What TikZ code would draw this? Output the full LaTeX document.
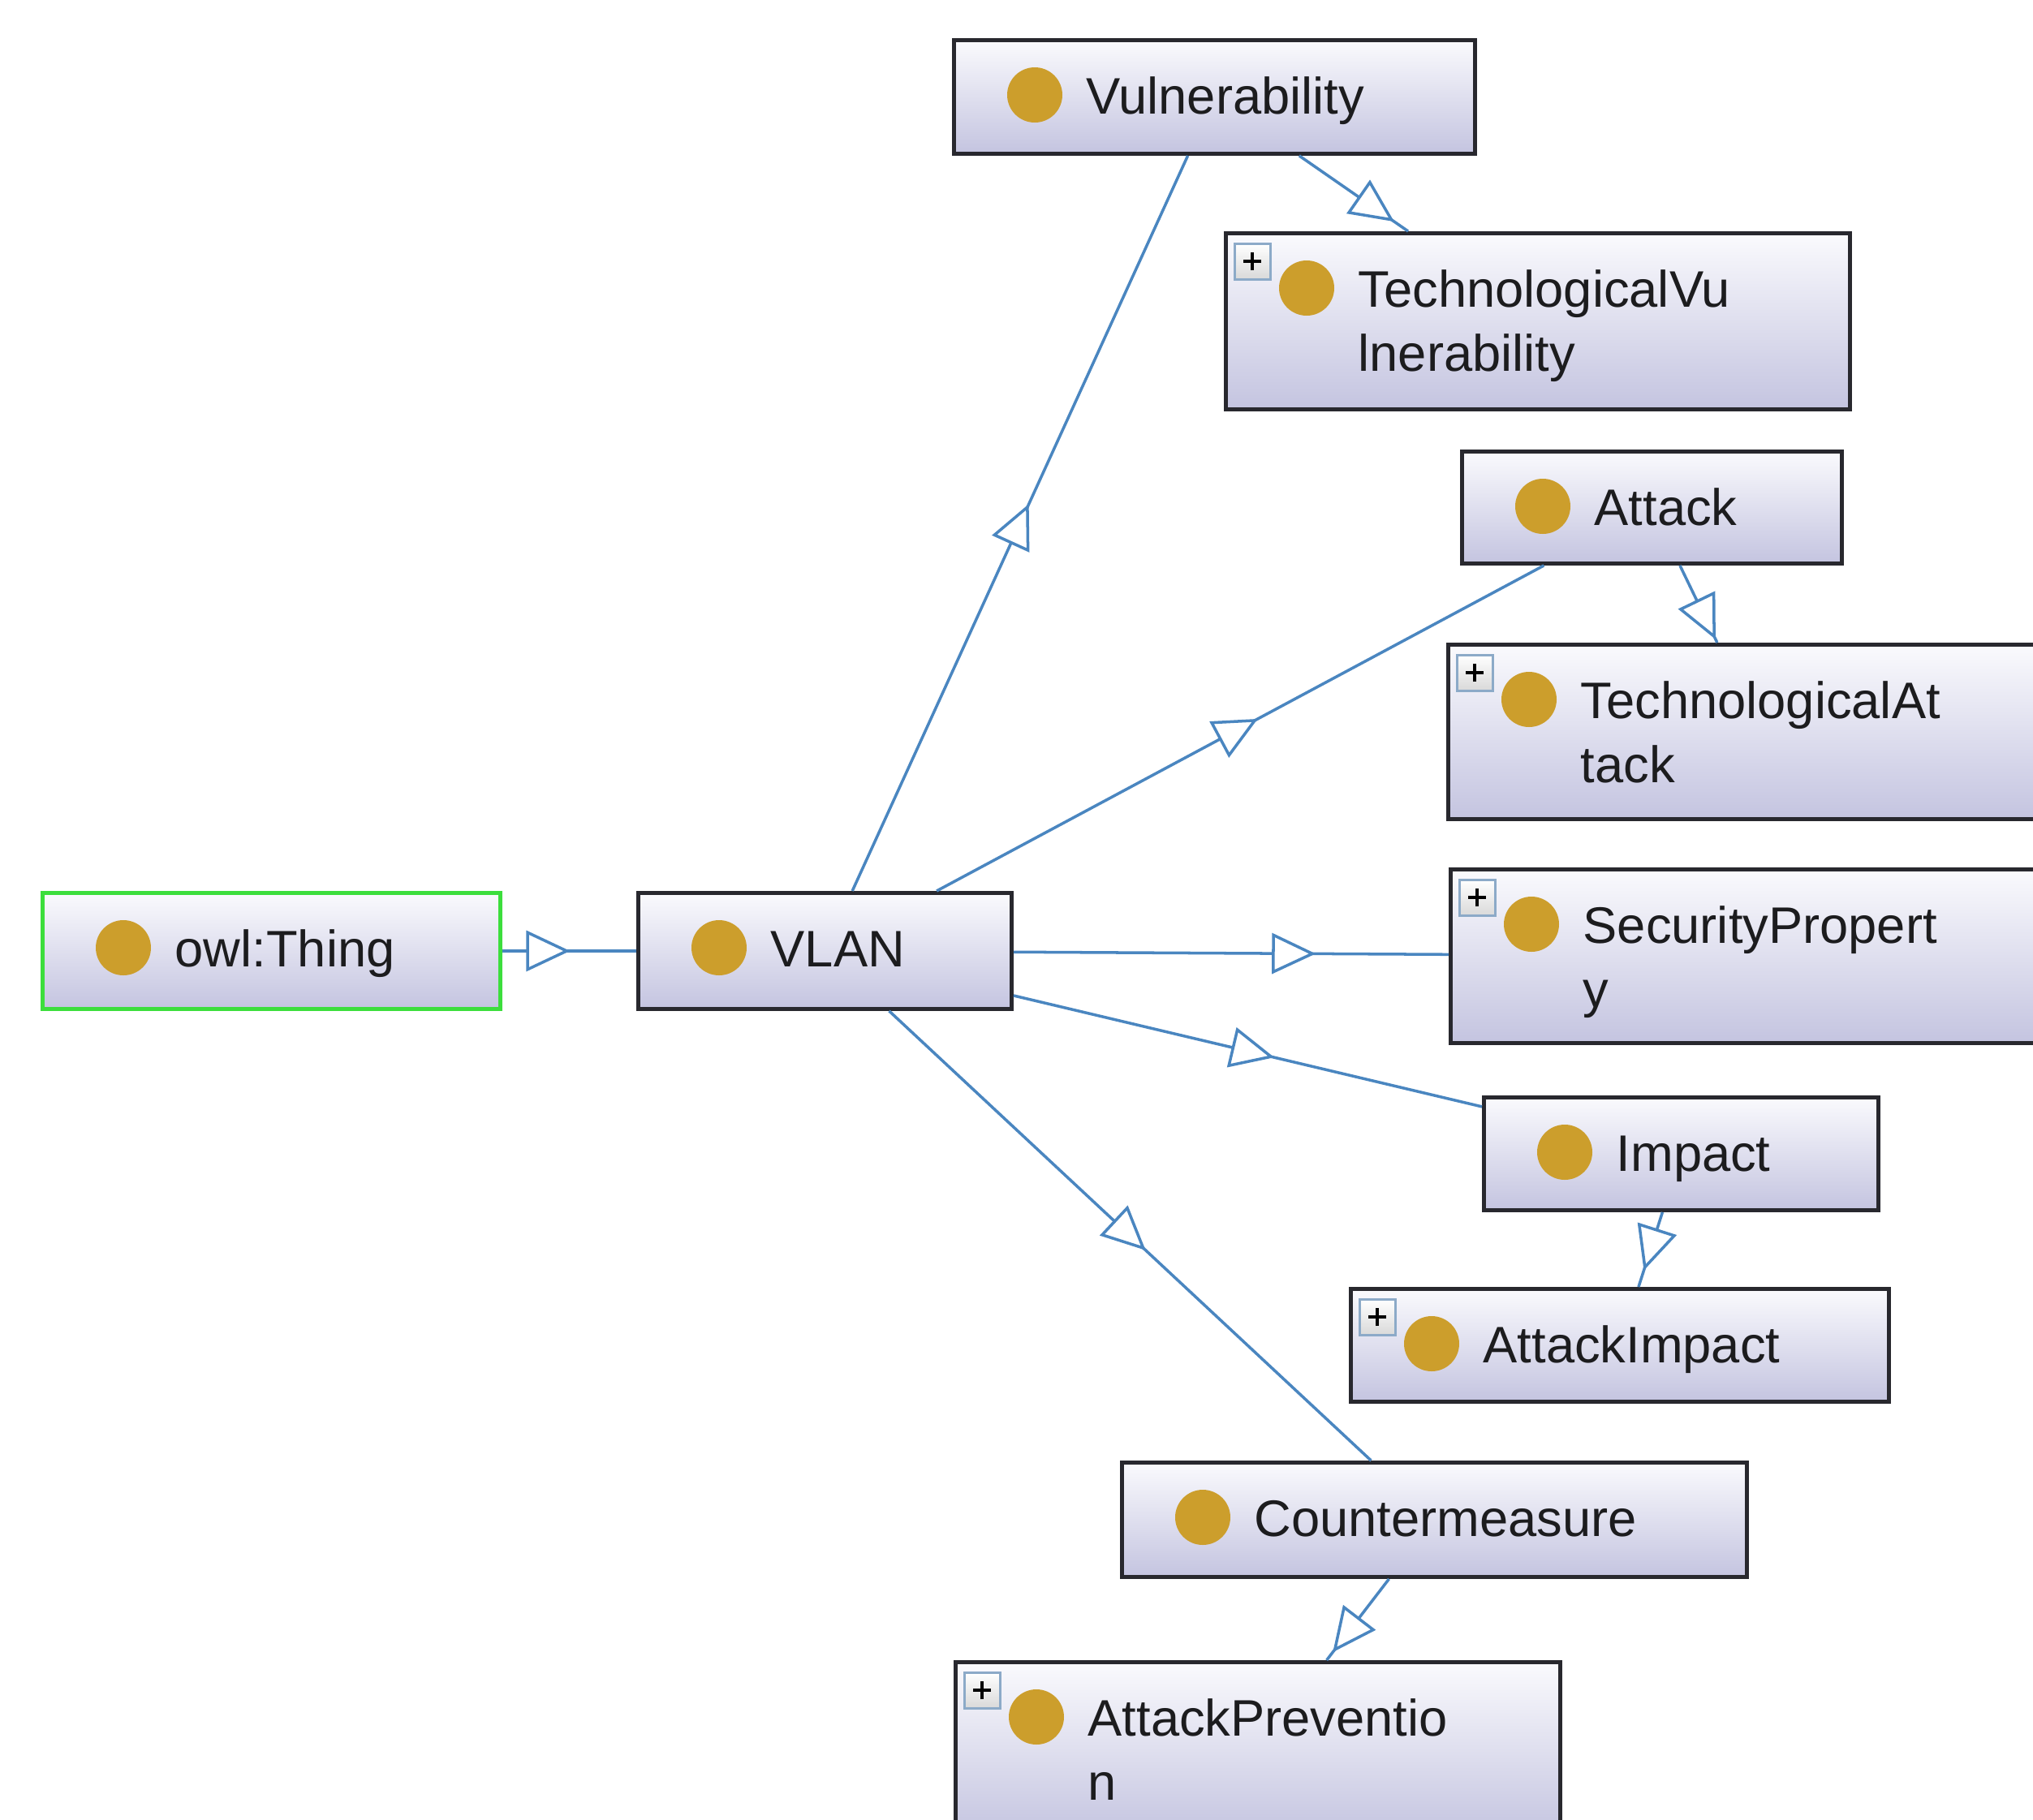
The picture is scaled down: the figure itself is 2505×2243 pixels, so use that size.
\documentclass[tikz,border=0pt]{standalone}
\usepackage{fontspec}
\setmainfont{Liberation Sans}
\usetikzlibrary{arrows.meta,positioning,calc}
\definecolor{nodeTop}{RGB}{250,250,253}
\definecolor{nodeBot}{RGB}{196,196,224}
\definecolor{nodeEdge}{RGB}{40,40,46}
\definecolor{rootGreen}{RGB}{60,222,60}
\definecolor{classDot}{RGB}{204,158,44}
\definecolor{isaBlue}{RGB}{74,134,192}
\definecolor{plusFrame}{RGB}{140,170,200}
\definecolor{labelInk}{RGB}{28,28,30}

\begin{document}
\begin{tikzpicture}[x=0.1mm, y=-0.1mm,
    cls/.style={draw=nodeEdge, line width=1.4pt, top color=nodeTop, bottom color=nodeBot,
      anchor=north west, inner sep=0pt, minimum height=14mm},
    root/.style={cls, draw=rootGreen},
    dot/.style={circle, fill=classDot, inner sep=0pt, minimum size=6.8mm},
    lbl/.style={anchor=base west, inner sep=0pt, align=left, text=labelInk,
      font=\fontsize{18}{22.4}\selectfont},
    plusbox/.style={draw=plusFrame, line width=0.8pt, top color=white, bottom color=black!15,
      anchor=north west, inner sep=0pt, minimum size=4.4mm,
      path picture={\draw[black, line width=1.1pt]
        ([xshift=-1.1mm]path picture bounding box.center) -- ([xshift=1.1mm]path picture bounding box.center)
        ([yshift=-1.1mm]path picture bounding box.center) -- ([yshift=1.1mm]path picture bounding box.center);}},
    isa/.style={isaBlue, line width=1pt},
    isatip/.style={isa, -{Triangle[length=5.4mm, width=5mm, fill=white]}}]
  \useasboundingbox (0,0) rectangle (2505,2243);
  \clip (0,0) rectangle (2505,2243);
  % --- class boxes ---
  \node[root, minimum width=56.4mm, minimum height=14.3mm] (thing) at (50,1098) {};
  \node[cls, minimum width=46mm, minimum height=14.3mm] (vlan) at (784,1098) {};
  \node[cls, minimum width=64.2mm] (vuln) at (1173,47) {};
  \node[cls, minimum width=76.9mm, minimum height=21.7mm] (tvul) at (1508,285) {};
  \node[cls, minimum width=46.8mm, minimum height=13.8mm] (attack) at (1799,554) {};
  \node[cls, minimum width=76.9mm, minimum height=21.5mm] (tatk) at (1782,792) {};
  \node[cls, minimum width=76.9mm, minimum height=21.4mm] (secp) at (1785,1069) {};
  \node[cls, minimum width=48.6mm, minimum height=13.9mm] (impact) at (1826,1350) {};
  \node[cls, minimum width=66.3mm, minimum height=13.9mm] (aimp) at (1662,1586) {};
  \node[cls, minimum width=77mm, minimum height=14.1mm] (cm) at (1380,1800) {};
  \node[cls, minimum width=74.5mm, minimum height=21.6mm] (aprev) at (1175,2046) {};
  % --- dots and names (base = last line, so two-line names sit one line lower) ---
  \foreach \n/\dy/\t in {thing/9.3/owl:Thing, vlan/9.3/VLAN, vuln/9.3/Vulnerability,
      tvul/17.2/{TechnologicalVu\\lnerability}, attack/9.3/Attack,
      tatk/17.2/{TechnologicalAt\\tack}, secp/17.2/{SecurityPropert\\y},
      impact/9.3/Impact, aimp/9.3/AttackImpact, cm/9.3/Countermeasure,
      aprev/17.2/{AttackPreventio\\n}} {
    \node[dot] (\n-dot) at ([shift={(10.2mm,-7mm)}]\n.north west) {};
    \node[lbl] (\n-txt) at ([shift={(16.5mm,-\dy mm)}]\n.north west) {\t};
  }
  % --- expand markers ---
  \foreach \n in {tvul,tatk,secp,aimp,aprev}
    \node[plusbox] (\n-plus) at ([shift={(1.2mm,-1.4mm)}]\n.north west) {};
  % --- subclass links, open head half way between centres ---
  \foreach \a/\b in {thing/vlan, vlan/vuln, vlan/attack, vlan/secp, vlan/impact, vlan/cm,
      vuln/tvul, attack/tatk, impact/aimp, cm/aprev} {
    \draw[isa] (\a) -- (\b);
    \coordinate (m) at ($(\a)!0.5!(\b)$);
    \draw[isatip] ($(m)!-2.7mm!(\b)$) -- ($(m)!2.7mm!(\b)$);
  }
\end{tikzpicture}
\end{document}
